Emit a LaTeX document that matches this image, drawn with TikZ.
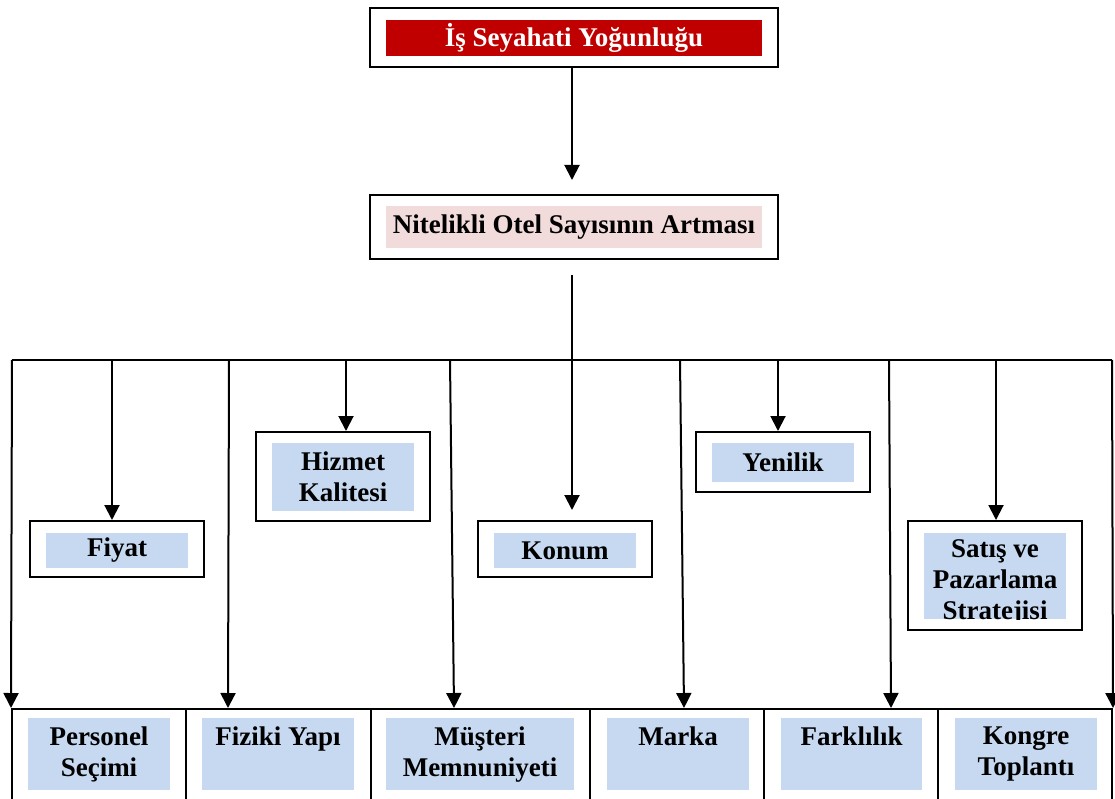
\documentclass[tikz,border=0pt]{standalone}
\usepackage{fontspec}
\setmainfont{Liberation Serif}
\usetikzlibrary{arrows.meta}
\definecolor{headred}{HTML}{C00000}
\definecolor{softpink}{HTML}{F2DBDB}
\definecolor{paleblue}{HTML}{C6D9F1}
% top-aligned text block for the cells of the bottom row: #1 width, #2 text
\newcommand\celltext[2]{\parbox[t][54pt][t]{#1}{\centering #2}}
\begin{document}
\begin{tikzpicture}[x=1pt,y=-1pt,
  lbl/.style={font=\bfseries\fontsize{27}{31}\selectfont, align=center, inner sep=0pt},
  frame/.style={draw, line width=2pt, minimum width=174pt, inner sep=0pt},
  panel/.style={lbl, fill=paleblue, minimum width=142pt},
  cell/.style={draw, line width=2pt, minimum height=121pt, inner sep=0pt},
  ln/.style={line width=2pt},
  arr/.style={line width=2pt, -{Triangle[length=15pt,width=15pt]}}]
\useasboundingbox (0,0) rectangle (1115,799);
\clip (0,0) rectangle (1115,799);

% header boxes
\node[frame, minimum width=408pt, minimum height=59pt] (top) at (574,37.5) {};
\node[lbl, fill=headred, text=white, minimum width=376pt, minimum height=36pt] (topT) at (574,38) {İş Seyahati Yoğunluğu};
\node[frame, minimum width=408pt, minimum height=64pt] (nit) at (574,227) {};
\node[lbl, fill=softpink, minimum width=376pt, minimum height=42pt] (nitT) at (574,227) {Nitelikli Otel Sayısının Artması};

% middle boxes
\node[frame, minimum height=56pt] (fiyat) at (117,549) {};
\node[panel, minimum height=35pt] (fiyatT) at (117,550.5) {Fiyat};
\node[frame, minimum height=89pt] (hizmet) at (343,476.5) {};
\node[panel, minimum height=68pt] (hizmetT) at (343,477) {Hizmet\\Kalitesi};
\node[frame, minimum height=56pt] (konum) at (565,549) {};
\node[panel, minimum height=35pt] (konumT) at (565,550.5) {Konum};
\node[frame, minimum height=60pt] (yenilik) at (783,462) {};
\node[panel, minimum height=39pt] (yenilikT) at (783,462.5) {Yenilik};
\node[frame, minimum height=109pt] (satis) at (995,575.5) {};
\node[panel, minimum height=86pt] (satisT) at (995,576) {};
\begin{scope}
  \clip (satisT.north west) rectangle (satisT.south east);
  \node[lbl, anchor=north] (satisL) at (995,539) {Satış ve\\Pazarlama\\Stratejisi};
\end{scope}

% bottom row of cells
\node[cell, minimum width=174pt] (c1) at (99,769.5) {};
\node[cell, minimum width=185pt] (c2) at (278.5,769.5) {};
\node[cell, minimum width=219pt] (c3) at (480.5,769.5) {};
\node[cell, minimum width=174pt] (c4) at (677,769.5) {};
\node[cell, minimum width=174pt] (c5) at (851,769.5) {};
\node[cell, minimum width=174pt] (c6) at (1025,769.5) {};
\node[panel, minimum width=142pt, minimum height=72pt] (p1) at (99,754) {\celltext{142pt}{Personel\\Seçimi}};
\node[panel, minimum width=152pt, minimum height=72pt] (p2) at (278,754) {\celltext{152pt}{Fiziki Yapı}};
\node[panel, minimum width=188pt, minimum height=72pt] (p3) at (480,754) {\celltext{188pt}{Müşteri\\Memnuniyeti}};
\node[panel, minimum width=142pt, minimum height=72pt] (p4) at (678,754) {\celltext{142pt}{Marka}};
\node[panel, minimum width=141pt, minimum height=72pt] (p5) at (851.5,754) {\celltext{141pt}{Farklılık}};
\node[panel, minimum width=142pt, minimum height=72pt] (p6) at (1026,754) {\celltext{142pt}{Kongre\\Toplantı}};

% distribution bus
\coordinate (bL) at (12,360);
\coordinate (bR) at (1112,360);
\coordinate (trunk) at (572,275);
\coordinate (bFiyat) at (112,360);
\coordinate (bFiziki) at (229,360);
\coordinate (bHizmet) at (346,360);
\coordinate (bMusteri) at (450,360);
\coordinate (bMarka) at (680,360);
\coordinate (bYenilik) at (778,360);
\coordinate (bFark) at (889,360);
\coordinate (bSatis) at (996,360);
\coordinate (eFiziki) at (228,708);
\coordinate (eMusteri) at (454,708);
\coordinate (eMarka) at (684,708);
\coordinate (eFark) at (891,708);

% connectors
\draw[arr, shorten >=14pt] ([xshift=-2pt]top.south) -- ([xshift=-2pt]nit.north);
\draw[ln] (bL) -- (bR);
\draw[arr, shorten >=10pt] (trunk) -- (trunk |- konum.north);
\draw[arr] (bL) -- (c1.north west);
\draw[arr] (bR) -- (c6.north east);
\draw[arr] (bFiyat) -- (bFiyat |- fiyat.north);
\draw[arr] (bHizmet) -- (bHizmet |- hizmet.north);
\draw[arr] (bYenilik) -- (bYenilik |- yenilik.north);
\draw[arr] (bSatis) -- (bSatis |- satis.north);
\draw[arr] (bFiziki) -- (eFiziki);
\draw[arr] (bMusteri) -- (eMusteri);
\draw[arr] (bMarka) -- (eMarka);
\draw[arr] (bFark) -- (eFark);
\end{tikzpicture}
\end{document}
